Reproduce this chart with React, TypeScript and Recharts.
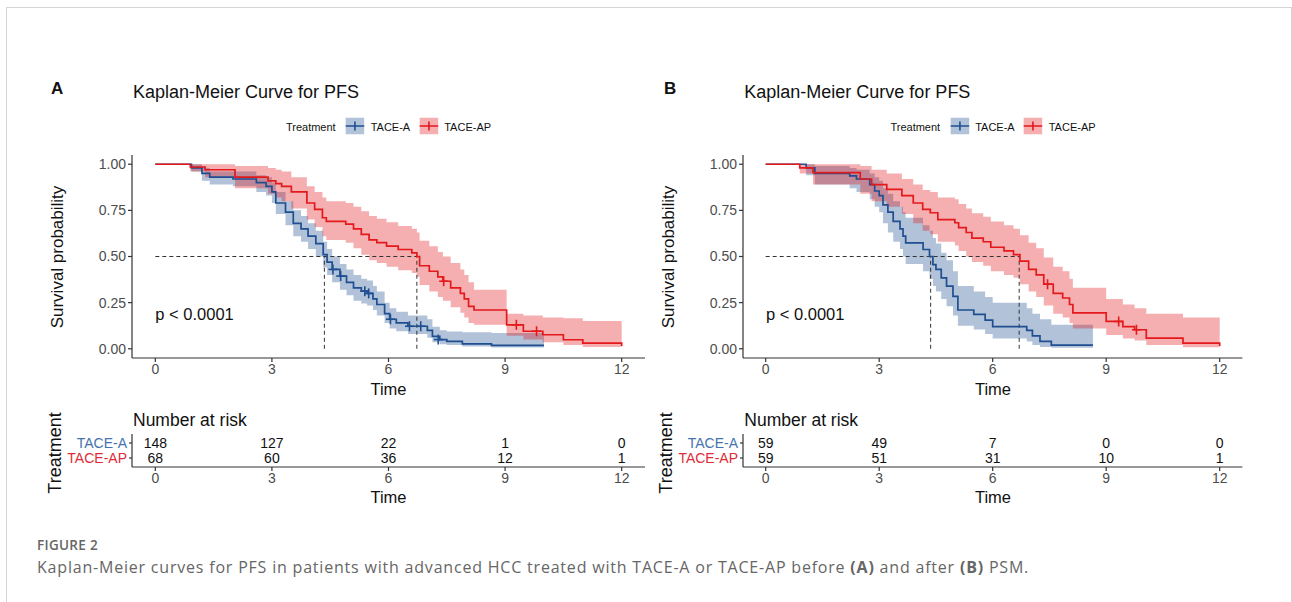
import React from 'react';
import { ComposedChart, Area, Line, Scatter, XAxis, YAxis, ReferenceLine } from 'recharts';

const BLUE = '#1F4F91';
const RED = '#E3191C';
const BLUE_TXT = '#4473AE';
const RED_TXT = '#DE2B36';
const FONT = '"Liberation Sans", Arial, sans-serif';

const timeTicks = [0, 3, 6, 9, 12];
const survTicks = [0, 0.25, 0.5, 0.75, 1];
const groups = ['TACE-A', 'TACE-AP'];
const riskTimes = [0, 3, 6, 9, 12];

// Panel A (before PSM) - [time, survival, lower CI, upper CI]
const kmA_taceA = [
  [0, 1, 1, 1], [0.93, 0.98, 0.96, 1], [1.2, 0.95, 0.91, 0.98], [1.4, 0.93, 0.89, 0.96],
  [2.0, 0.92, 0.88, 0.96], [2.6, 0.9, 0.85, 0.94], [2.85, 0.88, 0.83, 0.93], [3.0, 0.85, 0.79, 0.9],
  [3.1, 0.79, 0.73, 0.85], [3.35, 0.74, 0.67, 0.8], [3.55, 0.68, 0.61, 0.75], [3.75, 0.65, 0.58, 0.72],
  [3.93, 0.61, 0.54, 0.68], [4.13, 0.57, 0.5, 0.64], [4.32, 0.51, 0.44, 0.58], [4.42, 0.47, 0.4, 0.54],
  [4.55, 0.43, 0.36, 0.5], [4.75, 0.394, 0.32, 0.46], [4.92, 0.36, 0.29, 0.43], [5.1, 0.33, 0.26, 0.4],
  [5.3, 0.312, 0.245, 0.38], [5.45, 0.3, 0.235, 0.37], [5.6, 0.27, 0.21, 0.34], [5.7, 0.24, 0.18, 0.31],
  [5.9, 0.19, 0.14, 0.25], [6.03, 0.16, 0.11, 0.22], [6.2, 0.14, 0.095, 0.2], [6.5, 0.122, 0.08, 0.18],
  [7.0, 0.1, 0.06, 0.16], [7.13, 0.067, 0.035, 0.12], [7.32, 0.05, 0.025, 0.1], [7.5, 0.04, 0.02, 0.094],
  [7.9, 0.027, 0.012, 0.09], [8.65, 0.018, 0.007, 0.085], [10.0, 0.018, 0.007, 0.085],
];
const kmA_taceAP = [
  [0, 1, 1, 1], [0.9, 0.985, 0.96, 1], [1.28, 0.97, 0.93, 1], [2.05, 0.93, 0.87, 0.99],
  [2.9, 0.91, 0.84, 0.98], [3.1, 0.895, 0.82, 0.97], [3.25, 0.88, 0.8, 0.96], [3.5, 0.85, 0.76, 0.93],
  [3.9, 0.79, 0.7, 0.88], [4.1, 0.755, 0.66, 0.85], [4.3, 0.71, 0.61, 0.82], [4.4, 0.69, 0.59, 0.8],
  [4.9, 0.675, 0.575, 0.79], [5.1, 0.65, 0.545, 0.77], [5.3, 0.62, 0.51, 0.745], [5.5, 0.59, 0.48, 0.72],
  [5.7, 0.575, 0.465, 0.705], [5.95, 0.556, 0.445, 0.685], [6.25, 0.538, 0.425, 0.665], [6.6, 0.52, 0.41, 0.65],
  [6.73, 0.5, 0.39, 0.63], [6.8, 0.45, 0.345, 0.585], [7.05, 0.42, 0.31, 0.555], [7.27, 0.39, 0.28, 0.525],
  [7.4, 0.366, 0.26, 0.5], [7.6, 0.33, 0.225, 0.465], [7.85, 0.3, 0.195, 0.43], [7.95, 0.27, 0.17, 0.4],
  [8.06, 0.23, 0.14, 0.36], [8.2, 0.21, 0.13, 0.32], [9.04, 0.13, 0.07, 0.19], [9.47, 0.095, 0.05, 0.18],
  [9.97, 0.076, 0.035, 0.17], [10.5, 0.049, 0.02, 0.165], [11.0, 0.031, 0.01, 0.15], [12.0, 0.015, 0.005, 0.15],
];
const censorA_taceA = [[4.57, 0.43], [4.77, 0.394], [5.39, 0.312], [5.49, 0.3], [6.05, 0.16], [6.54, 0.122], [6.83, 0.122], [7.28, 0.05]];
const censorA_taceAP = [[7.42, 0.366], [9.29, 0.13], [9.81, 0.095]];
const medianA = [4.35, 6.73];
const riskA_taceA = [148, 127, 22, 1, 0];
const riskA_taceAP = [68, 60, 36, 12, 1];

// Panel B (after PSM)
const kmB_taceA = [
  [0, 1, 1, 1], [1.07, 0.98, 0.94, 1], [1.3, 0.95, 0.89, 0.99], [2.22, 0.937, 0.87, 0.98],
  [2.4, 0.92, 0.85, 0.97], [2.75, 0.89, 0.81, 0.95], [2.88, 0.855, 0.77, 0.93], [3.0, 0.83, 0.74, 0.91],
  [3.1, 0.78, 0.68, 0.87], [3.23, 0.74, 0.63, 0.84], [3.37, 0.69, 0.58, 0.8], [3.55, 0.65, 0.54, 0.77],
  [3.63, 0.61, 0.5, 0.74], [3.7, 0.574, 0.46, 0.71], [4.16, 0.538, 0.42, 0.67], [4.33, 0.5, 0.38, 0.64],
  [4.42, 0.456, 0.34, 0.6], [4.5, 0.43, 0.31, 0.57], [4.64, 0.384, 0.27, 0.52], [4.78, 0.34, 0.23, 0.48],
  [4.95, 0.284, 0.18, 0.42], [5.08, 0.21, 0.125, 0.34], [5.5, 0.186, 0.105, 0.31], [5.8, 0.155, 0.08, 0.28],
  [6.0, 0.12, 0.055, 0.25], [6.9, 0.1, 0.04, 0.22], [7.05, 0.07, 0.02, 0.19], [7.25, 0.04, 0.01, 0.16],
  [7.55, 0.02, 0.005, 0.13], [8.65, 0.02, 0.005, 0.13],
];
const kmB_taceAP = [
  [0, 1, 1, 1], [0.9, 0.98, 0.95, 1], [1.25, 0.955, 0.89, 1], [2.5, 0.92, 0.84, 0.99],
  [2.8, 0.89, 0.8, 0.97], [3.2, 0.864, 0.77, 0.95], [3.6, 0.83, 0.73, 0.92], [3.9, 0.79, 0.68, 0.89],
  [4.15, 0.755, 0.64, 0.86], [4.35, 0.737, 0.62, 0.85], [4.55, 0.7, 0.58, 0.82], [5.0, 0.683, 0.56, 0.81],
  [5.1, 0.656, 0.53, 0.785], [5.3, 0.63, 0.5, 0.76], [5.45, 0.6, 0.47, 0.735], [5.75, 0.58, 0.45, 0.715],
  [5.95, 0.55, 0.42, 0.69], [6.3, 0.53, 0.4, 0.67], [6.55, 0.51, 0.385, 0.65], [6.72, 0.475, 0.35, 0.615],
  [6.95, 0.43, 0.31, 0.575], [7.15, 0.4, 0.28, 0.545], [7.35, 0.35, 0.235, 0.495], [7.6, 0.3, 0.19, 0.445],
  [7.85, 0.275, 0.17, 0.42], [8.03, 0.24, 0.14, 0.38], [8.12, 0.194, 0.11, 0.33], [9.0, 0.148, 0.075, 0.27],
  [9.44, 0.12, 0.055, 0.24], [9.75, 0.103, 0.045, 0.22], [10.06, 0.058, 0.02, 0.19], [11.03, 0.031, 0.008, 0.17],
  [12.0, 0.015, 0.004, 0.17],
];
const censorB_taceA: number[][] = [];
const censorB_taceAP = [[7.45, 0.35], [9.33, 0.148], [9.8, 0.103]];
const medianB = [4.36, 6.7];
const riskB_taceA = [59, 49, 7, 0, 0];
const riskB_taceAP = [59, 51, 31, 10, 1];

const toRows = (rows: number[][]) => rows.map(([t, s, lo, hi]) => ({ t, s, ci: [lo, hi] }));
const toPts = (pts: number[][]) => pts.map(([t, s]) => ({ t, s }));

const plus = (color: string) => (props: any) => {
  const { cx, cy } = props;
  if (cx == null || cy == null) return <g />;
  return (
    <g stroke={color} strokeWidth={1.6}>
      <line x1={cx - 4.5} y1={cy} x2={cx + 4.5} y2={cy} />
      <line x1={cx} y1={cy - 5} x2={cx} y2={cy + 5} />
    </g>
  );
};

const RiskNum = (props: any) => {
  const { cx, cy, payload } = props;
  return (
    <text x={cx} y={cy} dy={5} textAnchor="middle" fontSize={14} fontFamily={FONT} fill="#111">
      {payload.n}
    </text>
  );
};

const RowTick = (props: any) => {
  const { x, y, payload } = props;
  const top = payload.value === 2;
  return (
    <text x={x} y={y} dy={5} textAnchor="end" fontSize={14} fontFamily={FONT} fill={top ? BLUE_TXT : RED_TXT}>
      {top ? groups[0] : groups[1]}
    </text>
  );
};

const Txt = ({ x, y, size, children, center, rotate, bold, color }: any) => (
  <div
    style={{
      position: 'absolute', left: x, top: y, fontSize: size, fontFamily: FONT, whiteSpace: 'nowrap',
      fontWeight: bold ? 700 : 400, color: color || '#111', lineHeight: 1,
      transform: `translate(${center ? '-50%' : '0'}, -50%)${rotate ? ' rotate(-90deg)' : ''}`,
    }}
  >
    {children}
  </div>
);

const LegendKey = ({ color }: { color: string }) => (
  <svg width={19} height={17} style={{ display: 'block' }}>
    <rect width={19} height={17} fill={color} fillOpacity={0.35} />
    <line x1={0} y1={8.5} x2={19} y2={8.5} stroke={color} strokeWidth={1.6} />
    <line x1={9.5} y1={4} x2={9.5} y2={13} stroke={color} strokeWidth={1.6} />
  </svg>
);

const axisTick = { fill: '#4d4d4d', fontSize: 14, fontFamily: FONT };
const axisLine = { stroke: '#333', strokeWidth: 1.2 };

function KMPanel(props: any) {
  const { letter, letterX, plotLeft, plotW, km1, km2, cens1, cens2, medians, risk1, risk2 } = props;
  const chartLeft = plotLeft - 132;
  const chartW = 132 + plotW + 15;
  const mid = plotLeft + plotW / 2;
  const rows1 = toRows(km1);
  const rows2 = toRows(km2);
  const riskRows = [
    ...riskTimes.map((t, i) => ({ t, row: 2, n: risk1[i] })),
    ...riskTimes.map((t, i) => ({ t, row: 1, n: risk2[i] })),
  ];
  const zeroX = plotLeft + (0.6 / 13.2) * plotW;
  return (
    <>
      <Txt x={letterX} y={88} size={17} bold>{letter}</Txt>
      <Txt x={plotLeft + 1} y={92} size={18}>Kaplan-Meier Curve for PFS</Txt>
      <div
        style={{
          position: 'absolute', left: mid, top: 126, transform: 'translate(-50%, -50%)', display: 'flex',
          alignItems: 'center', fontFamily: FONT, fontSize: 11, color: '#111', whiteSpace: 'nowrap',
        }}
      >
        <span style={{ marginRight: 10 }}>Treatment</span>
        <LegendKey color={BLUE} />
        <span style={{ marginLeft: 6, marginRight: 9 }}>{groups[0]}</span>
        <LegendKey color={RED} />
        <span style={{ marginLeft: 6 }}>{groups[1]}</span>
      </div>
      <Txt x={plotLeft - 75} y={257} size={17} center rotate>Survival probability</Txt>
      <Txt x={mid} y={389} size={16.5} center>Time</Txt>
      <Txt x={zeroX} y={314} size={16.5}>p &lt; 0.0001</Txt>

      <div style={{ position: 'absolute', left: chartLeft, top: 140 }}>
        <ComposedChart width={chartW} height={260} margin={{ top: 15, right: 15, bottom: 12, left: 92 }}>
          <XAxis type="number" dataKey="t" domain={[-0.6, 12.6]} ticks={timeTicks} allowDataOverflow interval={0}
            height={30} tickSize={4} tick={axisTick} axisLine={axisLine} tickLine={axisLine} />
          <YAxis type="number" domain={[-0.05, 1.05]} ticks={survTicks} allowDataOverflow interval={0}
            width={40} tickSize={4} tick={axisTick} axisLine={axisLine} tickLine={axisLine}
            tickFormatter={(v: number) => v.toFixed(2)} />
          <Area data={rows1} dataKey="ci" type="stepAfter" stroke="none" fill={BLUE} fillOpacity={0.35} isAnimationActive={false} />
          <Area data={rows2} dataKey="ci" type="stepAfter" stroke="none" fill={RED} fillOpacity={0.35} isAnimationActive={false} />
          <ReferenceLine segment={[{ x: 0, y: 0.5 }, { x: medians[1], y: 0.5 }]} stroke="#333" strokeDasharray="4 3" />
          <ReferenceLine segment={[{ x: medians[0], y: 0 }, { x: medians[0], y: 0.5 }]} stroke="#333" strokeDasharray="4 3" />
          <ReferenceLine segment={[{ x: medians[1], y: 0 }, { x: medians[1], y: 0.5 }]} stroke="#333" strokeDasharray="4 3" />
          <Line data={rows1} dataKey="s" type="stepAfter" stroke={BLUE} strokeWidth={1.7} dot={false} isAnimationActive={false} />
          <Line data={rows2} dataKey="s" type="stepAfter" stroke={RED} strokeWidth={1.7} dot={false} isAnimationActive={false} />
          <Scatter data={toPts(cens1)} dataKey="s" shape={plus(BLUE)} isAnimationActive={false} />
          <Scatter data={toPts(cens2)} dataKey="s" shape={plus(RED)} isAnimationActive={false} />
        </ComposedChart>
      </div>

      <Txt x={plotLeft + 1} y={421} size={17.5}>Number at risk</Txt>
      <Txt x={plotLeft - 77} y={453} size={18} center rotate>Treatment</Txt>
      <Txt x={mid} y={497} size={16.5} center>Time</Txt>
      <div style={{ position: 'absolute', left: chartLeft, top: 420 }}>
        <ComposedChart width={chartW} height={80} margin={{ top: 14, right: 15, bottom: 8, left: 92 }}>
          <XAxis type="number" dataKey="t" domain={[-0.6, 12.6]} ticks={timeTicks} allowDataOverflow interval={0}
            height={25} tickSize={4} tick={axisTick} axisLine={axisLine} tickLine={axisLine} />
          <YAxis type="number" domain={[0.4, 2.6]} ticks={[1, 2]} allowDataOverflow interval={0}
            width={40} tickSize={3} tick={<RowTick />} axisLine={axisLine} tickLine={axisLine} />
          <Scatter data={riskRows} dataKey="row" shape={RiskNum} isAnimationActive={false} />
        </ComposedChart>
      </div>
    </>
  );
}

export default function App() {
  return (
    <div style={{ position: 'absolute', left: 0, top: 0, width: 1292, height: 602, background: '#fff', overflow: 'hidden' }}>
      <div style={{ position: 'absolute', left: 6, top: 7, width: 1284, height: 620, border: '1.5px solid #d4d4d4' }} />
      <KMPanel letter="A" letterX={51} plotLeft={132} plotW={513}
        km1={kmA_taceA} km2={kmA_taceAP} cens1={censorA_taceA} cens2={censorA_taceAP}
        medians={medianA} risk1={riskA_taceA} risk2={riskA_taceAP} />
      <KMPanel letter="B" letterX={664} plotLeft={743.3} plotW={499.4}
        km1={kmB_taceA} km2={kmB_taceAP} cens1={censorB_taceA} cens2={censorB_taceAP}
        medians={medianB} risk1={riskB_taceA} risk2={riskB_taceAP} />
      <div style={{ position: 'absolute', left: 37, top: 536, fontFamily: '"Open Sans", sans-serif', fontSize: 13.5, letterSpacing: 0.3, fontWeight: 600, color: '#666' }}>
        FIGURE 2
      </div>
      <div style={{ position: 'absolute', left: 37, top: 556, fontFamily: '"Open Sans", sans-serif', fontSize: 16, letterSpacing: 0.8, color: '#666', whiteSpace: 'nowrap' }}>
        Kaplan-Meier curves for PFS in patients with advanced HCC treated with TACE-A or TACE-AP before <b>(A)</b> and after <b>(B)</b> PSM.
      </div>
    </div>
  );
}
